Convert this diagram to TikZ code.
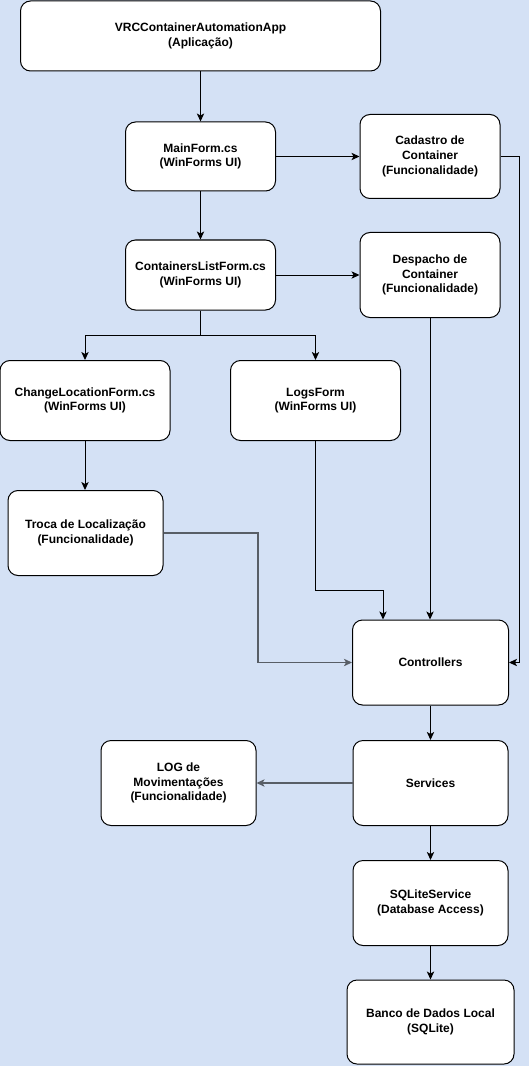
\documentclass[tikz,border=0pt]{standalone}
\usepackage{fontspec}
\setmainfont{Liberation Sans}
\usetikzlibrary{arrows.meta}
\definecolor{bgblue}{RGB}{212,225,245}
\definecolor{edgegray}{RGB}{88,94,102}
\begin{document}
\begin{tikzpicture}[x=0.75pt,y=-0.75pt,
  box/.style={draw=black, fill=white, line width=0.75pt, rounded corners=7.5pt,
    align=center, inner sep=0pt, font=\fontsize{9}{11}\selectfont\bfseries},
  sz/.style 2 args={minimum width=#1*0.75pt, minimum height=#2*0.75pt},
  arr/.style={draw=black, line width=0.75pt, -{Stealth[length=6pt,width=5.5pt,inset=1.5pt]}},
  ln/.style={draw=black, line width=0.75pt},
  garr/.style={arr, draw=edgegray, line width=1pt}]
\fill[bgblue] (0,0) rectangle (529,1066);
\useasboundingbox (0,0) rectangle (529,1066);

\node[box, sz={360}{70}] (app) at (200.5,36) {VRCContainerAutomationApp\\(Aplicação)};
\node[box, sz={150}{69}] (main) at (200.5,156.5) {MainForm.cs\\(WinForms UI)};
\node[box, sz={140}{84}] (cad) at (430,156.5) {Cadastro de\\Container\\(Funcionalidade)};
\node[box, sz={150}{70}] (clist) at (200.5,275) {ContainersListForm.cs\\(WinForms UI)};
\node[box, sz={140}{85}] (desp) at (430,275) {Despacho de\\Container\\(Funcionalidade)};
\node[box, sz={170}{80}] (change) at (85,400.5) {ChangeLocationForm.cs\\(WinForms UI)};
\node[box, sz={170}{80}] (logs) at (315.5,400.5) {LogsForm\\(WinForms UI)};
\node[box, sz={155}{85}] (troca) at (85.5,533) {Troca de Localização\\(Funcionalidade)};
\node[box, sz={156}{85}] (ctrl) at (430.5,662.5) {Controllers};
\node[box, sz={155}{85}] (svc) at (430.5,783) {Services};
\node[box, sz={155}{85}] (log) at (178.5,783) {LOG de\\Movimentações\\(Funcionalidade)};
\node[box, sz={155}{85}] (sql) at (430.5,903) {SQLiteService\\(Database Access)};
\node[box, sz={167}{84}] (db) at (430.5,1022) {Banco de Dados Local\\(SQLite)};

\coordinate (br) at (200.5,335);
\coordinate (cr) at (519,156.5);
\coordinate (tr) at (258,533);
\coordinate (lg) at (383,590);

\draw[arr] (app) -- (main);
\draw[arr] (main) -- (cad);
\draw[arr] (cad.east) -- (cr) |- (ctrl.east);
\draw[arr] (main) -- (clist);
\draw[arr] (clist) -- (desp);
\draw[arr] (desp.south) -- (desp.south |- ctrl.north);
\draw[ln] (clist.south) -- (br);
\draw[arr] (br) -| (change.north);
\draw[arr] (br) -| (logs.north);
\draw[arr] (change.south) -- (change.south |- troca.north);
\draw[garr] (troca.east |- tr) -- (tr) |- (ctrl.west);
\draw[arr] (logs.south) |- (lg) -- (lg |- ctrl.north);
\draw[arr] (ctrl) -- (svc);
\draw[garr] (svc) -- (log);
\draw[arr] (svc) -- (sql);
\draw[arr] (sql) -- (db);
\end{tikzpicture}
\end{document}
